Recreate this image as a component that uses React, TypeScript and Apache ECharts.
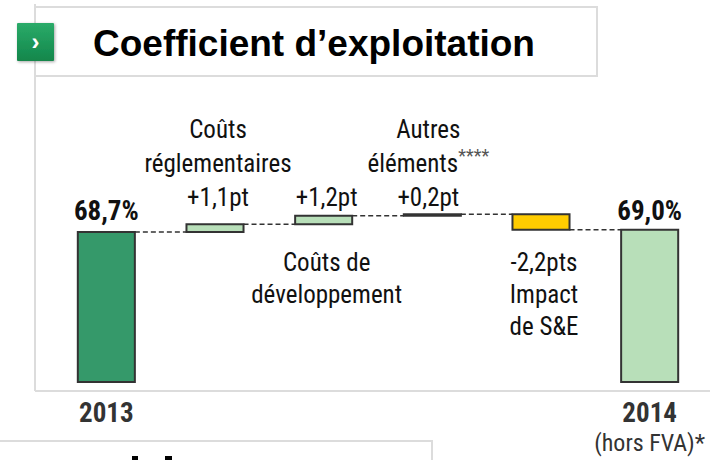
import React, { useEffect, useRef } from "react";
import * as echarts from "echarts";

const categories = ["2013", "Coûts réglementaires", "Coûts de développement", "Autres éléments", "Impact de S&E", "2014"];
const startValue = 68.7;
const deltas = [1.1, 1.2, 0.2, -2.2];
const endValue = 69.0;
const axisFloor = 47.5;
const valueLabels = ["68,7%", "+1,1pt", "+1,2pt", "+0,2pt", "-2,2pts", "69,0%"];
const aboveNames = ["", "Coûts\nréglementaires", "", "Autres\n{a|éléments}{s|****}", "", ""];
const belowNames = ["", "", "Coûts de\ndéveloppement", "", "Impact\nde S&E", ""];
const xTickLabels = ["2013", "", "", "", "", "2014"];
const xTickSub = ["", "", "", "", "", "(hors FVA)*"];

const FONT = "'Liberation Sans Narrow', 'Roboto Condensed', 'DejaVu Sans Condensed', sans-serif";
const colors = ["#35996a", "#b8dfb9", "#b8dfb9", "#b8dfb9", "#ffcc00", "#b8dfb9"];

const ranges: [number, number][] = [];
ranges.push([axisFloor, startValue]);
let cum = startValue;
deltas.forEach((d) => {
  const next = +(cum + d).toFixed(2);
  ranges.push([Math.min(cum, next), Math.max(cum, next)]);
  cum = next;
});
ranges.push([axisFloor, endValue]);
const levels: number[] = [startValue];
{
  let c = startValue;
  deltas.forEach((d) => {
    c = +(c + d).toFixed(2);
    levels.push(c);
  });
  levels.push(endValue);
}

export default function App() {
  const ref = useRef<HTMLDivElement>(null);
  useEffect(() => {
    if (!ref.current) return;
    const chart = echarts.init(ref.current, null, { renderer: "svg" });
    const data = ranges.map((r, i) => [i, r[0], r[1]]);
    chart.setOption({
      animation: false,
      backgroundColor: "#fff",
      grid: { left: 52, right: 6, top: 152, bottom: 78 },
      xAxis: {
        type: "category",
        data: categories,
        axisLine: { show: false },
        axisTick: { show: false },
        axisLabel: {
          interval: 0,
          margin: 16,
          formatter: (_v: string, i: number) =>
            xTickSub[i] ? `{m|${xTickLabels[i]}}\n{s|${xTickSub[i]}}` : `{m|${xTickLabels[i]}}`,
          rich: {
            m: { fontFamily: FONT, fontSize: 27, fontWeight: "bold", color: "#333", lineHeight: 30 },
            s: { fontFamily: FONT, fontSize: 24, fontWeight: "normal", color: "#333", lineHeight: 30 },
          },
        },
      },
      yAxis: { type: "value", min: axisFloor, max: 80, show: false, splitLine: { show: false } },
      series: [
        {
          type: "custom",
          data,
          clip: false,
          renderItem: (params: any, api: any) => {
            const i = api.value(0);
            const lo = api.value(1);
            const hi = api.value(2);
            const bw = api.size([1, 0])[0] * 0.525;
            const pLo = api.coord([i, lo]);
            const pHi = api.coord([i, hi]);
            const x0 = pLo[0] - bw / 2;
            const children: any[] = [
              {
                type: "rect",
                shape: { x: x0, y: pHi[1], width: bw, height: Math.max(pLo[1] - pHi[1], 1) },
                style: { fill: colors[i], stroke: "#333", lineWidth: 2 },
              },
            ];
            if (i < categories.length - 1) {
              const lvl = levels[i];
              const pa = api.coord([i, lvl]);
              const pb = api.coord([i + 1, lvl]);
              children.push({
                type: "line",
                shape: { x1: pa[0] + bw / 2, y1: pa[1], x2: pb[0] - bw / 2, y2: pb[1] },
                style: { stroke: "#333", lineWidth: 1.5, lineDash: [5, 3] },
              });
            }
            const cx = pLo[0];
            const isTotal = i === 0 || i === categories.length - 1;
            const isDown = deltas[i - 1] < 0;
            if (isTotal) {
              children.push({
                type: "text",
                style: {
                  text: valueLabels[i], x: cx, y: 211, align: "center", verticalAlign: "middle",
                  fontFamily: FONT, fontSize: 27, fontWeight: "bold", fill: "#111",
                },
              });
            } else if (!isDown) {
              const t = aboveNames[i] ? aboveNames[i] + "\n" + valueLabels[i] : valueLabels[i];
              children.push({
                type: "text",
                style: {
                  text: t, x: i === 3 ? cx - 4 : cx + 3, y: 214, align: "center", verticalAlign: "bottom",
                  fontFamily: FONT, fontSize: 25, fill: "#111", lineHeight: 34,
                  rich: {
                    a: { fontFamily: FONT, fontSize: 25, fill: "#111", lineHeight: 34 },
                    s: { fontFamily: FONT, fontSize: 18, fill: "#555", lineHeight: 34, verticalAlign: "top", padding: [0, 0, 8, 0] },
                  },
                },
              });
            }
            const below = isDown ? valueLabels[i] + "\n" + belowNames[i] : belowNames[i];
            if (below) {
              children.push({
                type: "text",
                style: {
                  text: below, x: cx + 3, y: 246, align: "center", verticalAlign: "top",
                  fontFamily: FONT, fontSize: 25, fill: "#111", lineHeight: 32,
                },
              });
            }
            return { type: "group", children };
          },
        },
      ],
      graphic: [
        { type: "line", shape: { x1: 35, y1: 4, x2: 35, y2: 391 }, style: { stroke: "#dcdcdc", lineWidth: 2 } },
        { type: "line", shape: { x1: 35, y1: 391, x2: 710, y2: 391 }, style: { stroke: "#dcdcdc", lineWidth: 2 } },
        { type: "rect", shape: { x: 35, y: 7, width: 562, height: 69 }, style: { fill: "#fff", stroke: "#dcdcdc", lineWidth: 2 } },
        {
          type: "rect",
          shape: { x: 17, y: 23, width: 37, height: 38, r: 1 },
          style: {
            fill: new echarts.graphic.LinearGradient(0, 0, 0, 1, [
              { offset: 0, color: "#2bab69" },
              { offset: 1, color: "#12864b" },
            ]),
            shadowBlur: 3, shadowColor: "rgba(0,0,0,0.35)", shadowOffsetX: 1, shadowOffsetY: 1,
          },
        },
        {
          type: "text",
          style: { text: "›", x: 35.5, y: 41, align: "center", verticalAlign: "middle", fontFamily: "'Liberation Sans', Arial, sans-serif", fontSize: 24, fontWeight: "bold", fill: "#fff" },
        },
        {
          type: "text",
          style: { text: "Coefficient d’exploitation", x: 93, y: 43, verticalAlign: "middle", fontFamily: "'Liberation Sans', Arial, sans-serif", fontSize: 37, fontWeight: "bold", fill: "#000" },
        },
        { type: "rect", shape: { x: -2, y: 441, width: 434, height: 40 }, style: { fill: "none", stroke: "#dcdcdc", lineWidth: 2 } },
        { type: "rect", shape: { x: 132, y: 456, width: 6, height: 6 }, style: { fill: "#000" } },
        { type: "rect", shape: { x: 165, y: 456, width: 7, height: 6 }, style: { fill: "#000" } },
      ],
    });
    return () => chart.dispose();
  }, []);
  return <div ref={ref} style={{ position: "fixed", left: 0, top: 0, width: 710, height: 460 }} />;
}
